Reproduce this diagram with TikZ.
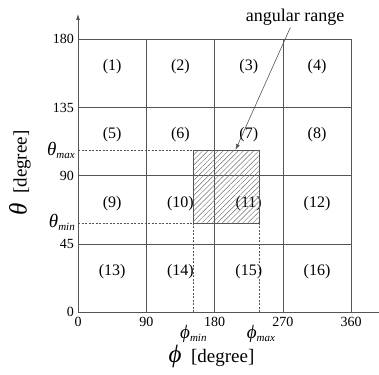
\documentclass[tikz,border=0pt]{standalone}
\usepackage{fontspec}
\setmainfont{Liberation Serif}
\usetikzlibrary{arrows.meta, patterns.meta}
\definecolor{gridgray}{RGB}{85,85,85}
\definecolor{hatchgray}{RGB}{110,110,110}
\newcommand{\limsym}[2]{\textit{#1}\raisebox{-0.35ex}{\fontsize{11}{11}\selectfont\textit{#2}}}

\begin{document}
\begin{tikzpicture}[
    x=0.7589pt, y=1.5167pt,
    gridln/.style={gridgray,line width=0.8pt},
    dashln/.style={gridgray,dash pattern=on 2pt off 1.5pt,line width=0.6pt},
    ticklbl/.style={font=\fontsize{14}{14}\selectfont,inner sep=1pt},
    celllbl/.style={font=\fontsize{16}{16}\selectfont,inner sep=1pt},
    limlbl/.style={font=\fontsize{19}{19}\selectfont,inner sep=1pt},
    axlbl/.style={font=\fontsize{19}{19}\selectfont,inner sep=1pt},
    arr/.style={-{Latex[length=6pt,width=4pt]},line width=0.6pt,gridgray}
]
  \useasboundingbox (-78pt,-61.7pt) rectangle (301pt,312.3pt);

  % Axes
  \coordinate (orig) at (0,0);
  \coordinate (ytop) at (0,196.7);
  \coordinate (xend) at (397,0);
  \draw[gridln,-{Latex[length=6pt,width=4pt]}] (orig) -- (ytop);
  \draw[gridln] (orig) -- (xend);

  % Grid of sixteen cells
  \draw[gridln] (0,180) -- (360,180) -- (360,0);
  \foreach \gx in {90,180,270} \draw[gridln] (\gx,0) -- (\gx,180);
  \foreach \gy in {45,90,135} \draw[gridln] (0,\gy) -- (360,\gy);

  % Tick labels
  \foreach \t in {0,45,90,135,180}
    \node[ticklbl,anchor=east] (yt\t) at ([xshift=-3pt]0,\t) {\t};
  \foreach \t in {0,90,180,270,360}
    \node[ticklbl,anchor=north] (xt\t) at ([yshift=-4pt]\t,0) {\t};

  % Cell numbers
  \foreach \r in {0,...,3}
    \foreach \c in {0,...,3}{
      \pgfmathtruncatemacro{\n}{4*\r+\c+1}
      \node[celllbl] (c\n) at (45+90*\c,161.8-45*\r) {(\n)};
    }

  % Limits of the angular range
  \coordinate (pmin) at (152,0);
  \coordinate (pmax) at (239,0);
  \draw[dashln] (0,107) -- (152,107);
  \draw[dashln] (0,59) -- (152,59);
  \draw[dashln] (pmin) -- (152,59);
  \draw[dashln] (pmax) -- (239,59);
  \draw[gridln,line width=0.6pt,
        pattern={Lines[angle=45,distance=3.6pt,line width=0.45pt]},
        pattern color=hatchgray] (152,59) rectangle (239,107);

  \node[limlbl,anchor=east] (thmax) at ([xshift=-2pt]0,107) {\limsym{θ}{max}};
  \node[limlbl,anchor=east] (thmin) at ([xshift=-2pt]0,59) {\limsym{θ}{min}};
  \node[limlbl] (phmin) at (152,-14) {\limsym{ϕ}{min}};
  \node[limlbl] (phmax) at (241,-14) {\limsym{ϕ}{max}};

  % Axis titles
  \node[axlbl] (phlbl) at (176,-29) {{\fontsize{25}{25}\selectfont\textit{ϕ}}\ \ [degree]};
  \node[axlbl,rotate=90] (thlbl) at (-76.4,91.8) {{\fontsize{25}{25}\selectfont\textit{θ}}\ \ [degree]};

  % Annotation
  \node[font=\fontsize{18}{18}\selectfont,inner sep=2pt] (rnglbl) at (286,194.7) {angular range};
  \coordinate (rngtip) at (207.5,107);
  \draw[arr] (rnglbl) -- (rngtip);
\end{tikzpicture}
\end{document}
